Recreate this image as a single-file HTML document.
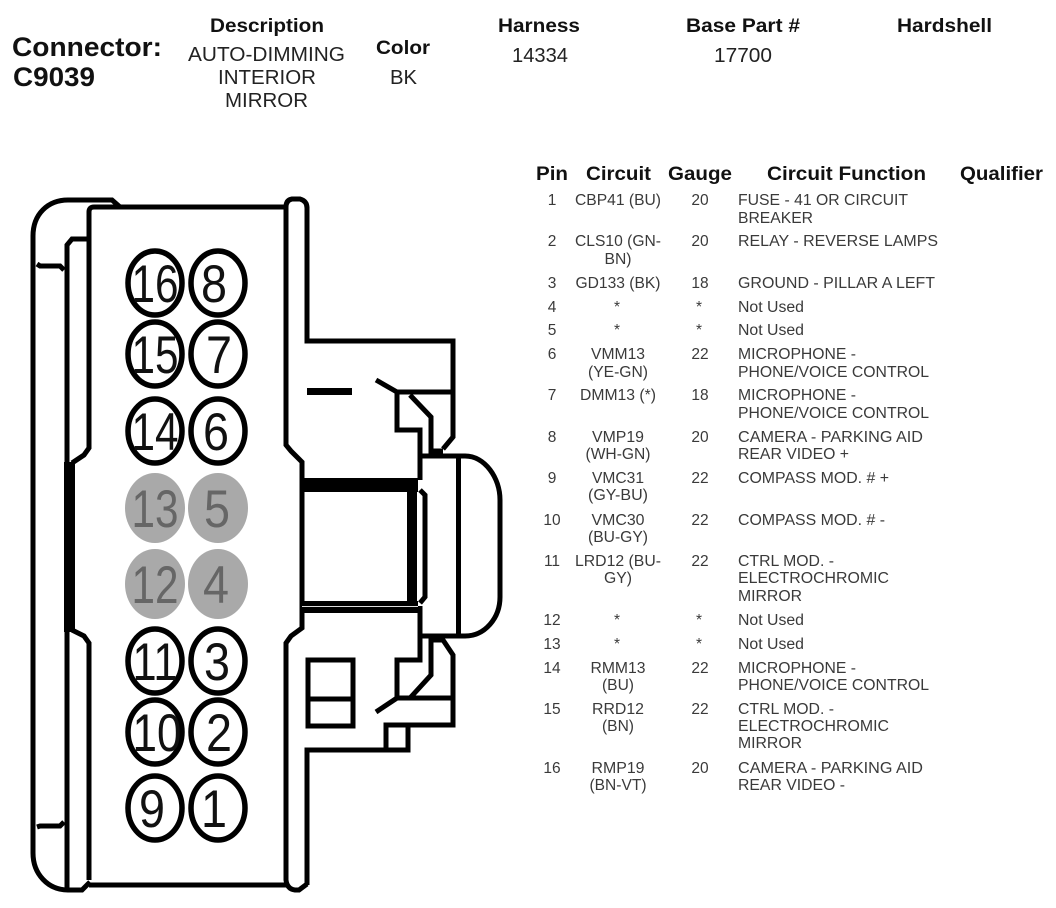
<!DOCTYPE html>
<html><head><meta charset="utf-8"><style>
html,body{margin:0;padding:0;background:#fff}
svg{display:block}
text{font-family:"Liberation Sans",Arial,sans-serif;fill:#222}
.h{font-weight:bold;font-size:19px;fill:#111}
.b{font-size:20px;fill:#222}
.t{font-size:15.5px;fill:#3a3a3a}
.m{text-anchor:middle}
.d{font-size:53px;text-anchor:middle;fill:#111}
.g{font-size:53px;text-anchor:middle;fill:#666}
.l{fill:none;stroke:#000;stroke-width:5}
</style></head><body>
<svg width="1056" height="908" viewBox="0 0 1056 908" xmlns="http://www.w3.org/2000/svg">
<rect width="1056" height="908" fill="#fff"/>
<text x="12" y="56" style="font-weight:bold;font-size:27px;fill:#111" textLength="150" lengthAdjust="spacingAndGlyphs">Connector:</text>
<text x="13" y="86" style="font-weight:bold;font-size:27px;fill:#111" textLength="82" lengthAdjust="spacingAndGlyphs">C9039</text>
<text class="h" x="210" y="32" textLength="114" lengthAdjust="spacingAndGlyphs">Description</text>
<text class="b" x="188" y="61" textLength="157" lengthAdjust="spacingAndGlyphs">AUTO-DIMMING</text>
<text class="b" x="218" y="84" textLength="98" lengthAdjust="spacingAndGlyphs">INTERIOR</text>
<text class="b" x="225" y="107" textLength="83" lengthAdjust="spacingAndGlyphs">MIRROR</text>
<text class="h" x="376" y="54" textLength="54" lengthAdjust="spacingAndGlyphs">Color</text>
<text class="b" x="390" y="84" textLength="27" lengthAdjust="spacingAndGlyphs">BK</text>
<text class="h" x="498" y="32" textLength="82" lengthAdjust="spacingAndGlyphs">Harness</text>
<text class="b" x="512" y="62" textLength="56" lengthAdjust="spacingAndGlyphs">14334</text>
<text class="h" x="686" y="32" textLength="114" lengthAdjust="spacingAndGlyphs">Base Part #</text>
<text class="b" x="714" y="62" textLength="58" lengthAdjust="spacingAndGlyphs">17700</text>
<text class="h" x="897" y="32" textLength="95" lengthAdjust="spacingAndGlyphs">Hardshell</text>

<text class="h" x="536" y="180" textLength="32" lengthAdjust="spacingAndGlyphs">Pin</text>
<text class="h" x="586" y="180" textLength="65" lengthAdjust="spacingAndGlyphs">Circuit</text>
<text class="h" x="668" y="180" textLength="64" lengthAdjust="spacingAndGlyphs">Gauge</text>
<text class="h" x="767" y="180" textLength="159" lengthAdjust="spacingAndGlyphs">Circuit Function</text>
<text class="h" x="960" y="180" textLength="83" lengthAdjust="spacingAndGlyphs">Qualifier</text>

<g transform="translate(0,-1)">
<!-- pins -->
<text class="t m" x="552" y="206">1</text><text class="t m" x="552" y="247">2</text><text class="t m" x="552" y="289">3</text><text class="t m" x="552" y="313">4</text><text class="t m" x="552" y="336">5</text><text class="t m" x="552" y="360">6</text><text class="t m" x="552" y="401">7</text><text class="t m" x="552" y="443">8</text><text class="t m" x="552" y="484">9</text><text class="t m" x="552" y="526">10</text><text class="t m" x="552" y="567">11</text><text class="t m" x="552" y="626">12</text><text class="t m" x="552" y="650">13</text><text class="t m" x="552" y="674">14</text><text class="t m" x="552" y="715">15</text><text class="t m" x="552" y="774">16</text>
<!-- gauge -->
<text class="t m" x="700" y="206">20</text><text class="t m" x="700" y="247">20</text><text class="t m" x="700" y="289">18</text><text class="t m" x="699" y="313">*</text><text class="t m" x="699" y="336">*</text><text class="t m" x="700" y="360">22</text><text class="t m" x="700" y="401">18</text><text class="t m" x="700" y="443">20</text><text class="t m" x="700" y="484">22</text><text class="t m" x="700" y="526">22</text><text class="t m" x="700" y="567">22</text><text class="t m" x="699" y="626">*</text><text class="t m" x="699" y="650">*</text><text class="t m" x="700" y="674">22</text><text class="t m" x="700" y="715">22</text><text class="t m" x="700" y="774">20</text>
<!-- circuit -->
<text class="t m" x="618" y="206" textLength="86" lengthAdjust="spacingAndGlyphs">CBP41 (BU)</text>
<text class="t m" x="618" y="247" textLength="86" lengthAdjust="spacingAndGlyphs">CLS10 (GN-</text>
<text class="t m" x="618" y="265" textLength="27" lengthAdjust="spacingAndGlyphs">BN)</text>
<text class="t m" x="618" y="289" textLength="85" lengthAdjust="spacingAndGlyphs">GD133 (BK)</text>
<text class="t m" x="617" y="313">*</text>
<text class="t m" x="617" y="336">*</text>
<text class="t m" x="618" y="360" textLength="54" lengthAdjust="spacingAndGlyphs">VMM13</text>
<text class="t m" x="618" y="378" textLength="60" lengthAdjust="spacingAndGlyphs">(YE-GN)</text>
<text class="t m" x="618" y="401" textLength="76" lengthAdjust="spacingAndGlyphs">DMM13 (*)</text>
<text class="t m" x="618" y="443" textLength="52" lengthAdjust="spacingAndGlyphs">VMP19</text>
<text class="t m" x="618" y="460" textLength="65" lengthAdjust="spacingAndGlyphs">(WH-GN)</text>
<text class="t m" x="618" y="484" textLength="52" lengthAdjust="spacingAndGlyphs">VMC31</text>
<text class="t m" x="618" y="501" textLength="60" lengthAdjust="spacingAndGlyphs">(GY-BU)</text>
<text class="t m" x="618" y="526" textLength="53" lengthAdjust="spacingAndGlyphs">VMC30</text>
<text class="t m" x="618" y="543" textLength="60" lengthAdjust="spacingAndGlyphs">(BU-GY)</text>
<text class="t m" x="618" y="567" textLength="86" lengthAdjust="spacingAndGlyphs">LRD12 (BU-</text>
<text class="t m" x="618" y="584" textLength="28" lengthAdjust="spacingAndGlyphs">GY)</text>
<text class="t m" x="617" y="626">*</text>
<text class="t m" x="617" y="650">*</text>
<text class="t m" x="618" y="674" textLength="55" lengthAdjust="spacingAndGlyphs">RMM13</text>
<text class="t m" x="618" y="691" textLength="32" lengthAdjust="spacingAndGlyphs">(BU)</text>
<text class="t m" x="618" y="715" textLength="52" lengthAdjust="spacingAndGlyphs">RRD12</text>
<text class="t m" x="618" y="732" textLength="32" lengthAdjust="spacingAndGlyphs">(BN)</text>
<text class="t m" x="618" y="774" textLength="53" lengthAdjust="spacingAndGlyphs">RMP19</text>
<text class="t m" x="618" y="791" textLength="57" lengthAdjust="spacingAndGlyphs">(BN-VT)</text>
<!-- function -->
<text class="t" x="738" y="206" textLength="170" lengthAdjust="spacingAndGlyphs">FUSE - 41 OR CIRCUIT</text>
<text class="t" x="738" y="224" textLength="75" lengthAdjust="spacingAndGlyphs">BREAKER</text>
<text class="t" x="738" y="247" textLength="200" lengthAdjust="spacingAndGlyphs">RELAY - REVERSE LAMPS</text>
<text class="t" x="738" y="289" textLength="197" lengthAdjust="spacingAndGlyphs">GROUND - PILLAR A LEFT</text>
<text class="t" x="738" y="313" textLength="66" lengthAdjust="spacingAndGlyphs">Not Used</text>
<text class="t" x="738" y="336" textLength="66" lengthAdjust="spacingAndGlyphs">Not Used</text>
<text class="t" x="738" y="360" textLength="118" lengthAdjust="spacingAndGlyphs">MICROPHONE -</text>
<text class="t" x="738" y="378" textLength="191" lengthAdjust="spacingAndGlyphs">PHONE/VOICE CONTROL</text>
<text class="t" x="738" y="401" textLength="118" lengthAdjust="spacingAndGlyphs">MICROPHONE -</text>
<text class="t" x="738" y="419" textLength="191" lengthAdjust="spacingAndGlyphs">PHONE/VOICE CONTROL</text>
<text class="t" x="738" y="443" textLength="185" lengthAdjust="spacingAndGlyphs">CAMERA - PARKING AID</text>
<text class="t" x="738" y="460" textLength="111" lengthAdjust="spacingAndGlyphs">REAR VIDEO +</text>
<text class="t" x="738" y="484" textLength="151" lengthAdjust="spacingAndGlyphs">COMPASS MOD. # +</text>
<text class="t" x="738" y="526" textLength="147" lengthAdjust="spacingAndGlyphs">COMPASS MOD. # -</text>
<text class="t" x="738" y="567" textLength="96" lengthAdjust="spacingAndGlyphs">CTRL MOD. -</text>
<text class="t" x="738" y="584" textLength="151" lengthAdjust="spacingAndGlyphs">ELECTROCHROMIC</text>
<text class="t" x="738" y="602" textLength="64" lengthAdjust="spacingAndGlyphs">MIRROR</text>
<text class="t" x="738" y="626" textLength="66" lengthAdjust="spacingAndGlyphs">Not Used</text>
<text class="t" x="738" y="650" textLength="66" lengthAdjust="spacingAndGlyphs">Not Used</text>
<text class="t" x="738" y="674" textLength="118" lengthAdjust="spacingAndGlyphs">MICROPHONE -</text>
<text class="t" x="738" y="691" textLength="191" lengthAdjust="spacingAndGlyphs">PHONE/VOICE CONTROL</text>
<text class="t" x="738" y="715" textLength="96" lengthAdjust="spacingAndGlyphs">CTRL MOD. -</text>
<text class="t" x="738" y="732" textLength="151" lengthAdjust="spacingAndGlyphs">ELECTROCHROMIC</text>
<text class="t" x="738" y="749" textLength="64" lengthAdjust="spacingAndGlyphs">MIRROR</text>
<text class="t" x="738" y="774" textLength="185" lengthAdjust="spacingAndGlyphs">CAMERA - PARKING AID</text>
<text class="t" x="738" y="791" textLength="107" lengthAdjust="spacingAndGlyphs">REAR VIDEO -</text>
</g>

<!-- housing -->
<g class="l">
<path d="M33 853V236C33 214 48 200 68 200H112L120 207"/>
<path d="M33 853C33 874 48 890 68 890H82L90 882"/>
<path d="M67 630V890"/>
<path d="M67 462V245L72 239H88"/>
<path d="M37 264L40 266H60L64 270M37 827L40 826H60L64 822"/>
<path d="M89 212Q89 207 94 207H286"/>
<path d="M286 207V445L291 451L302 462V628L291 636L286 643V880Q287 889 295 890H299L307 884"/>
<path d="M89 212V448L84 455L72 463"/>
<path d="M89 880V643L84 636L72 630"/>
<path d="M89 885H286"/>
<path d="M286 207Q286 200 292 199H300Q307 201 307 208"/>
<path d="M307 207V341H453V437L443 449"/>
<path d="M431 451H443"/>
<path d="M376 380L397 392H453"/>
<path d="M397 392V430H420V480"/>
<path d="M410 395L431 417V456"/>
<path d="M420 456H465C485 456 500 478 500 500V597C500 618 485 636 465 636H420"/>
<path d="M458.500 456V636"/>
<path d="M420 606V660H397V698H453"/>
<path d="M376 712L397 698"/>
<path d="M410 698L431 675V636"/>
<path d="M431 640H443L453 655V725H386V750"/>
<path d="M307 885V750H408V725"/>
<path d="M420 490L425 495V597L420 603"/>
<rect x="308" y="660" width="45" height="66"/>
<path d="M308 699H353"/>
</g>
<rect x="64" y="462" width="11" height="170" fill="#000"/>
<rect x="300" y="478" width="118" height="14" fill="#000"/>
<rect x="407" y="490" width="10" height="114" fill="#000"/>
<rect x="300" y="601" width="118" height="12" fill="#000"/>
<rect x="302" y="606" width="116" height="1" fill="#ddd"/>
<rect x="307" y="388" width="45" height="7" fill="#000"/>

<!-- cavities -->
<g fill="#fff" stroke="#000" stroke-width="5.500">
<ellipse cx="155" cy="283" rx="27" ry="32"/><ellipse cx="218" cy="283" rx="27" ry="32"/>
<ellipse cx="155" cy="354" rx="27" ry="32"/><ellipse cx="218" cy="354" rx="27" ry="32"/>
<ellipse cx="155" cy="431" rx="27" ry="32"/><ellipse cx="218" cy="431" rx="27" ry="32"/>
<ellipse cx="155" cy="661" rx="27" ry="32"/><ellipse cx="218" cy="661" rx="27" ry="32"/>
<ellipse cx="155" cy="732" rx="27" ry="32"/><ellipse cx="218" cy="732" rx="27" ry="32"/>
<ellipse cx="155" cy="808" rx="27" ry="32"/><ellipse cx="218" cy="808" rx="27" ry="32"/>
</g>
<g fill="#a9a9a9">
<ellipse cx="155" cy="508" rx="30" ry="35"/><ellipse cx="218" cy="508" rx="30" ry="35"/>
<ellipse cx="155" cy="584" rx="30" ry="35"/><ellipse cx="218" cy="584" rx="30" ry="35"/>
</g>
<text class="d" x="155" y="302" textLength="47" lengthAdjust="spacingAndGlyphs">16</text>
<text class="d" x="214" y="302" textLength="26" lengthAdjust="spacingAndGlyphs">8</text>
<text class="d" x="155" y="373" textLength="47" lengthAdjust="spacingAndGlyphs">15</text>
<text class="d" x="219" y="373" textLength="26" lengthAdjust="spacingAndGlyphs">7</text>
<text class="d" x="155" y="450" textLength="47" lengthAdjust="spacingAndGlyphs">14</text>
<text class="d" x="216" y="450" textLength="26" lengthAdjust="spacingAndGlyphs">6</text>
<text class="g" x="155" y="527" textLength="47" lengthAdjust="spacingAndGlyphs">13</text>
<text class="g" x="217" y="527" textLength="26" lengthAdjust="spacingAndGlyphs">5</text>
<text class="g" x="155" y="603" textLength="47" lengthAdjust="spacingAndGlyphs">12</text>
<text class="g" x="216" y="603" textLength="26" lengthAdjust="spacingAndGlyphs">4</text>
<text class="d" x="155" y="680" textLength="45" lengthAdjust="spacingAndGlyphs">11</text>
<text class="d" x="217" y="680" textLength="26" lengthAdjust="spacingAndGlyphs">3</text>
<text class="d" x="157" y="751" textLength="49" lengthAdjust="spacingAndGlyphs">10</text>
<text class="d" x="219" y="751" textLength="26" lengthAdjust="spacingAndGlyphs">2</text>
<text class="d" x="152" y="827" textLength="26" lengthAdjust="spacingAndGlyphs">9</text>
<text class="d" x="214" y="827" textLength="26" lengthAdjust="spacingAndGlyphs">1</text>
</svg>
</body></html>
